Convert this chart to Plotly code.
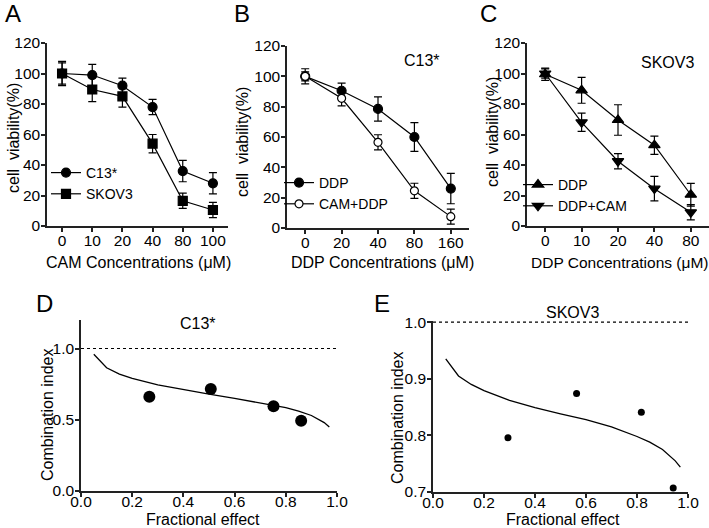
import plotly.graph_objects as go

W, H = 709, 528

# Panel A
a_cats = ["0", "10", "20", "40", "80", "100"]
a_c13 = [100, 99, 92, 78, 36, 28]
a_c13_err = [7, 7, 5, 5, 7, 7]
a_skov = [100, 89.5, 85, 54, 16.5, 10.5]
a_skov_err = [8, 8, 7, 6, 5, 5]

# Panel B
b_cats = ["0", "20", "40", "80", "160"]
b_ddp = [100, 90.5, 78.5, 60, 26]
b_ddp_err = [5, 5, 8, 9.5, 10]
b_cam = [100, 85.5, 56.5, 24.5, 7.5]
b_cam_err = [3, 5, 5, 5, 5]

# Panel C
c_cats = ["0", "10", "20", "40", "80"]
c_ddp = [99.5, 89, 69.5, 53, 20.5]
c_ddp_err = [4, 8.5, 10, 6, 7.5]
c_cam = [100, 68, 42.5, 24.5, 9]
c_cam_err = [3, 6, 5, 8, 5]

# Panel D
d_curve_fa = [0.05, 0.1, 0.15, 0.2, 0.3, 0.4, 0.5, 0.6, 0.7, 0.8, 0.85, 0.9, 0.95, 0.97]
d_curve_ci = [0.96, 0.865, 0.82, 0.79, 0.745, 0.71, 0.68, 0.65, 0.62, 0.585, 0.56, 0.53, 0.48, 0.45]
d_pts_fa = [0.267, 0.507, 0.752, 0.86]
d_pts_ci = [0.662, 0.716, 0.594, 0.493]

# Panel E
e_curve_fa = [0.05, 0.1, 0.15, 0.2, 0.3, 0.4, 0.5, 0.6, 0.7, 0.8, 0.85, 0.9, 0.95, 0.97]
e_curve_ci = [0.935, 0.905, 0.89, 0.879, 0.862, 0.849, 0.838, 0.828, 0.815, 0.798, 0.788, 0.775, 0.755, 0.744]
e_pts_fa = [0.294, 0.563, 0.817, 0.942]
e_pts_ci = [0.796, 0.874, 0.841, 0.707]

FONT = "Arial, Liberation Sans, sans-serif"
BLACK = "#000000"
AX = "#222222"
TICK_SIZE = 15.5
TITLE_SIZE = 16
LEG_SIZE = 14

fig = go.Figure()

def err(arr):
    return dict(type="data", array=arr, visible=True, color=BLACK, thickness=1.2, width=4)

def line_trace(cats, vals, errs, name, symbol, xa, ya, legend, size=9, fill=BLACK):
    return go.Scatter(x=cats, y=vals, error_y=err(errs), name=name, mode="lines+markers",
                      line=dict(color=BLACK, width=1.2),
                      marker=dict(symbol=symbol, size=size, color=fill, line=dict(color=BLACK, width=1.2)),
                      xaxis=xa, yaxis=ya, legend=legend, cliponaxis=False)

fig.add_trace(line_trace(a_cats, a_c13, a_c13_err, "C13*", "circle", "x", "y", "legend"))
fig.add_trace(line_trace(a_cats, a_skov, a_skov_err, "SKOV3", "square", "x", "y", "legend"))
fig.add_trace(line_trace(b_cats, b_ddp, b_ddp_err, "DDP", "circle", "x2", "y2", "legend2"))
fig.add_trace(line_trace(b_cats, b_cam, b_cam_err, "CAM+DDP", "circle", "x2", "y2", "legend2", size=8, fill="white"))
fig.add_trace(line_trace(c_cats, c_ddp, c_ddp_err, "DDP", "triangle-up", "x3", "y3", "legend3", size=10))
fig.add_trace(line_trace(c_cats, c_cam, c_cam_err, "DDP+CAM", "triangle-down", "x3", "y3", "legend3", size=10))

fig.add_trace(go.Scatter(x=d_curve_fa, y=d_curve_ci, mode="lines", line=dict(color=BLACK, width=1.3),
                         xaxis="x4", yaxis="y4", showlegend=False))
fig.add_trace(go.Scatter(x=d_pts_fa, y=d_pts_ci, mode="markers", marker=dict(color=BLACK, size=12),
                         xaxis="x4", yaxis="y4", showlegend=False, cliponaxis=False))
fig.add_trace(go.Scatter(x=e_curve_fa, y=e_curve_ci, mode="lines", line=dict(color=BLACK, width=1.3),
                         xaxis="x5", yaxis="y5", showlegend=False))
fig.add_trace(go.Scatter(x=e_pts_fa, y=e_pts_ci, mode="markers", marker=dict(color=BLACK, size=7),
                         xaxis="x5", yaxis="y5", showlegend=False, cliponaxis=False))

def px_x(p):
    return p / W

def px_y(p):
    return 1 - p / H

tickfont = dict(family=FONT, size=TICK_SIZE, color=BLACK)

def axis_common():
    return dict(showline=True, linecolor=AX, linewidth=1.5, ticks="outside", ticklen=4,
                tickcolor=AX, tickwidth=1.5, showgrid=False, zeroline=False, tickfont=tickfont,
                automargin=False)

def cat_x(domain, n, anchor):
    d = axis_common()
    d.update(domain=domain, type="category", range=[-0.5, n - 0.5], anchor=anchor, ticklabelstandoff=-4)
    return d

def via_y(domain, anchor):
    d = axis_common()
    d.update(domain=domain, range=[0, 120], tickvals=[0, 20, 40, 60, 80, 100, 120], anchor=anchor,
             ticklabelstandoff=-2)
    return d

yA = [px_y(226), px_y(43)]
yB = [px_y(228), px_y(46)]
fig.update_layout(
    xaxis=cat_x([px_x(47), px_x(228)], 6, "y"),
    yaxis=via_y(yA, "x"),
    xaxis2=cat_x([px_x(287), px_x(469)], 5, "y2"),
    yaxis2=via_y(yB, "x2"),
    xaxis3=cat_x([px_x(527), 1.0], 5, "y3"),
    yaxis3=via_y(yA, "x3"),
)

def frac_x(domain, anchor):
    d = axis_common()
    d.update(domain=domain, range=[0, 1], tickvals=[0, 0.2, 0.4, 0.6, 0.8, 1.0], tickformat=".1f",
             anchor=anchor, ticklabelstandoff=-8)
    return d

y4 = axis_common()
y4.update(domain=[px_y(491), px_y(320)], range=[0, 1.2], tickvals=[0, 0.5, 1.0], tickformat=".1f",
          anchor="x4", ticklabelstandoff=-2)
y5 = axis_common()
y5.update(domain=[px_y(492), px_y(321)], range=[0.7, 1.002], tickvals=[0.7, 0.8, 0.9, 1.0], tickformat=".1f",
          anchor="x5", ticklabelstandoff=-2)

fig.update_layout(
    xaxis4=frac_x([px_x(81), px_x(337)], "y4"),
    yaxis4=y4,
    xaxis5=frac_x([px_x(433), px_x(688)], "y5"),
    yaxis5=y5,
)

fig.add_shape(type="line", xref="x4", yref="y4", x0=0, x1=1, y0=1, y1=1,
              line=dict(color=BLACK, width=1.2, dash="3px,3px"))
fig.add_shape(type="line", xref="x5", yref="y5", x0=0, x1=1, y0=1, y1=1,
              line=dict(color=BLACK, width=1.2, dash="3px,3px"))

legfont = dict(family=FONT, size=LEG_SIZE, color=BLACK)

def leg(xp, yp):
    return dict(x=px_x(xp), y=px_y(yp), xanchor="left", yanchor="top", bgcolor="rgba(0,0,0,0)",
                font=legfont, itemwidth=30, tracegroupgap=0, borderwidth=0)

fig.update_layout(
    legend=leg(46, 157),
    legend2=leg(279, 167),
    legend3=leg(518, 169),
)

def ann(text, xp, yp, size, angle=0):
    fig.add_annotation(text=text, x=px_x(xp), y=px_y(yp), xref="paper", yref="paper",
                       showarrow=False, xanchor="center", yanchor="middle", textangle=angle,
                       font=dict(family=FONT, size=size, color=BLACK))

# panel letters
ann("A", 13, 14, 24)
ann("B", 242, 14, 24)
ann("C", 488, 14, 24)
ann("D", 44, 303, 24)
ann("E", 382, 303, 24)
# panel labels
ann("C13*", 422, 60, TITLE_SIZE)
ann("SKOV3", 667, 62, TITLE_SIZE)
ann("C13*", 198, 323, TITLE_SIZE)
ann("SKOV3", 572, 312, TITLE_SIZE)
# axis titles
ann("CAM Concentrations (\u03bcM)", 138, 262, TITLE_SIZE)
ann("DDP Concentrations (\u03bcM)", 382, 262, TITLE_SIZE)
ann("DDP Concentrations (\u03bcM)", 619, 262, 15.5)
ann("cell  viability(%)", 13, 138, TITLE_SIZE, -90)
ann("cell  viability(%)", 242, 142, TITLE_SIZE, -90)
ann("cell  viability(%)", 492, 132, TITLE_SIZE, -90)
ann("Fractional effect", 203, 519, TITLE_SIZE)
ann("Fractional effect", 563, 519, TITLE_SIZE)
ann("Combination index", 47, 414, TITLE_SIZE, -90)
ann("Combination index", 397, 418, TITLE_SIZE, -90)

fig.update_layout(width=W, height=H, margin=dict(l=0, r=0, t=0, b=0, pad=0, autoexpand=False),
                  paper_bgcolor="white", plot_bgcolor="white", showlegend=True,
                  font=dict(family=FONT, color=BLACK))

fig.write_html("out.html",
               config={"displayModeBar": False},
               post_script="document.documentElement.style.margin='0';"
                           "document.body.style.margin='0';document.body.style.padding='0';"
                           "document.body.style.overflow='hidden';")
